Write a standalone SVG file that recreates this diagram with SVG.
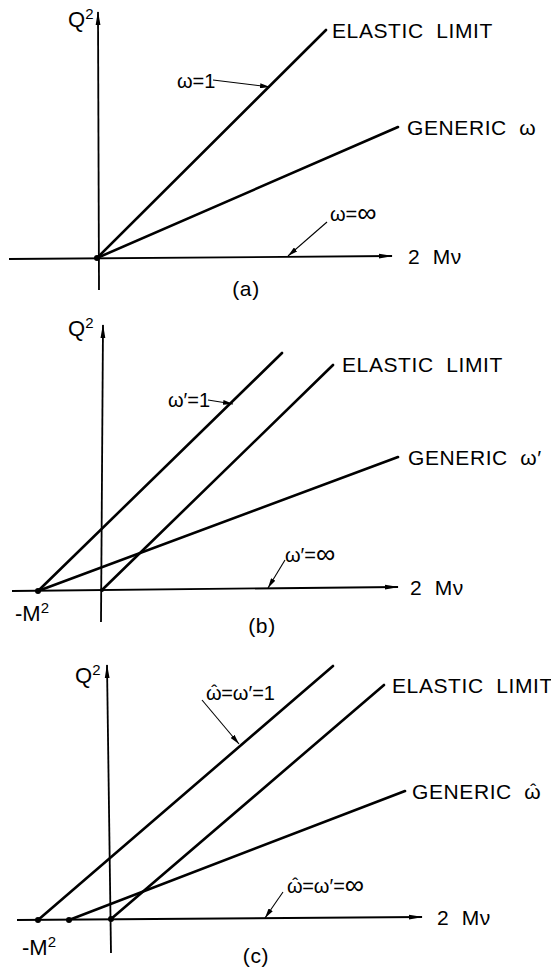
<svg xmlns="http://www.w3.org/2000/svg" width="551" height="977" viewBox="0 0 551 977">
<style>
text{font-family:"Liberation Sans","DejaVu Sans",sans-serif;fill:#000}
.lab{font-size:21px;letter-spacing:0.6px;word-spacing:6px}
.sm{font-size:20px}
.inf{font-size:27px}
.hat{font-size:18px}
.q{font-size:22px}
.sup{font-size:15px}
.ax{stroke:#000;stroke-width:1.8;fill:none}
.ln{stroke:#000;stroke-width:2.6;fill:none;stroke-linecap:round}
.ld{stroke:#000;stroke-width:1.1;fill:none}
.dot{fill:#000}
</style>
<defs>
<marker id="axh" viewBox="0 0 14 6" refX="13" refY="3" markerWidth="14" markerHeight="6" markerUnits="userSpaceOnUse" orient="auto">
<path d="M0,0.6 L14,3 L0,5.4 Z" fill="#000"/>
</marker>
<marker id="ldh" viewBox="0 0 10 5" refX="10" refY="2.5" markerWidth="10" markerHeight="5" markerUnits="userSpaceOnUse" orient="auto">
<path d="M0,0 L10,2.5 L0,5 Z" fill="#000"/>
</marker>
</defs>

<!-- Panel (a) -->
<g id="panel-a">
<g id="a-axes">
<line class="ax" x1="99" y1="290" x2="98" y2="12" marker-end="url(#axh)"/>
<line class="ax" x1="9" y1="259" x2="392" y2="256" marker-end="url(#axh)"/>
</g>
<g id="a-connectors">
<line class="ln" x1="97" y1="258" x2="326" y2="30"/>
<line class="ln" x1="97" y1="258" x2="398" y2="127"/>
<line class="ld" x1="213" y1="80" x2="270" y2="87" marker-end="url(#ldh)"/>
<line class="ld" x1="327" y1="222" x2="288" y2="256" marker-end="url(#ldh)"/>
</g>
<circle class="dot" cx="97" cy="258" r="3"/>
<g id="a-labels">
<text class="q" x="68" y="27">Q<tspan class="sup" dy="-8">2</tspan></text>
<text class="lab" x="332" y="38">ELASTIC  LIMIT</text>
<text class="lab" x="407" y="135">GENERIC ω</text>
<text class="sm" x="177" y="88">ω=1</text>
<text class="sm" x="330" y="221">ω=<tspan class="inf" dy="1">∞</tspan></text>
<text class="lab" x="408" y="264">2 Mν</text>
<text class="lab" x="246" y="296" text-anchor="middle">(a)</text>
</g>
</g>

<!-- Panel (b) -->
<g id="panel-b">
<g id="b-axes">
<line class="ax" x1="101" y1="622" x2="103" y2="325" marker-end="url(#axh)"/>
<line class="ax" x1="12" y1="591" x2="398" y2="587" marker-end="url(#axh)"/>
</g>
<g id="b-connectors">
<line class="ln" x1="38" y1="591" x2="282" y2="353"/>
<line class="ln" x1="102" y1="590" x2="333" y2="365"/>
<line class="ln" x1="38" y1="591" x2="398" y2="457"/>
<line class="ld" x1="208" y1="400" x2="233" y2="404" marker-end="url(#ldh)"/>
<line class="ld" x1="285" y1="560" x2="268" y2="588" marker-end="url(#ldh)"/>
</g>
<circle class="dot" cx="38" cy="591" r="3"/>
<circle class="dot" cx="102" cy="590" r="2"/>
<g id="b-labels">
<text class="q" x="68" y="336">Q<tspan class="sup" dy="-8">2</tspan></text>
<text class="lab" x="342" y="372">ELASTIC  LIMIT</text>
<text class="lab" x="408" y="465">GENERIC ω′</text>
<text class="sm" x="168" y="407">ω′=1</text>
<text class="sm" x="285" y="562">ω′=<tspan class="inf" dy="1">∞</tspan></text>
<text class="lab" x="410" y="595">2 Mν</text>
<text class="q" x="15" y="621">-M<tspan class="sup" dy="-8">2</tspan></text>
<text class="lab" x="262" y="633" text-anchor="middle">(b)</text>
</g>
</g>

<!-- Panel (c) -->
<g id="panel-c">
<g id="c-axes">
<line class="ax" x1="111" y1="953" x2="107" y2="665" marker-end="url(#axh)"/>
<line class="ax" x1="17" y1="920" x2="422" y2="917" marker-end="url(#axh)"/>
</g>
<g id="c-connectors">
<line class="ln" x1="38" y1="920" x2="333" y2="666"/>
<line class="ln" x1="111" y1="919" x2="384" y2="685"/>
<line class="ln" x1="69" y1="920" x2="405" y2="791"/>
<line class="ld" x1="202" y1="700" x2="239" y2="744" marker-end="url(#ldh)"/>
<line class="ld" x1="283" y1="892" x2="265" y2="918" marker-end="url(#ldh)"/>
</g>
<circle class="dot" cx="38" cy="920" r="3"/>
<circle class="dot" cx="69" cy="920" r="3"/>
<circle class="dot" cx="111" cy="919" r="3"/>
<g id="c-labels">
<text class="q" x="75" y="683">Q<tspan class="sup" dy="-8">2</tspan></text>
<text class="lab" x="392" y="693">ELASTIC  LIMIT</text>
<text class="lab" x="412" y="799">GENERIC ω<tspan class="hat" dx="-11" dy="-2">ˆ</tspan></text>
<text class="sm" x="206" y="700">ω<tspan class="hat" dx="-10.5" dy="-2">ˆ</tspan><tspan dx="4" dy="2">=ω′=1</tspan></text>
<text class="sm" x="287" y="893">ω<tspan class="hat" dx="-10.5" dy="-2">ˆ</tspan><tspan dx="4" dy="2">=ω′=</tspan><tspan class="inf" dy="1">∞</tspan></text>
<text class="lab" x="437" y="925">2 Mν</text>
<text class="q" x="22" y="955">-M<tspan class="sup" dy="-8">2</tspan></text>
<text class="lab" x="256" y="963" text-anchor="middle">(c)</text>
</g>
</g>
</svg>
